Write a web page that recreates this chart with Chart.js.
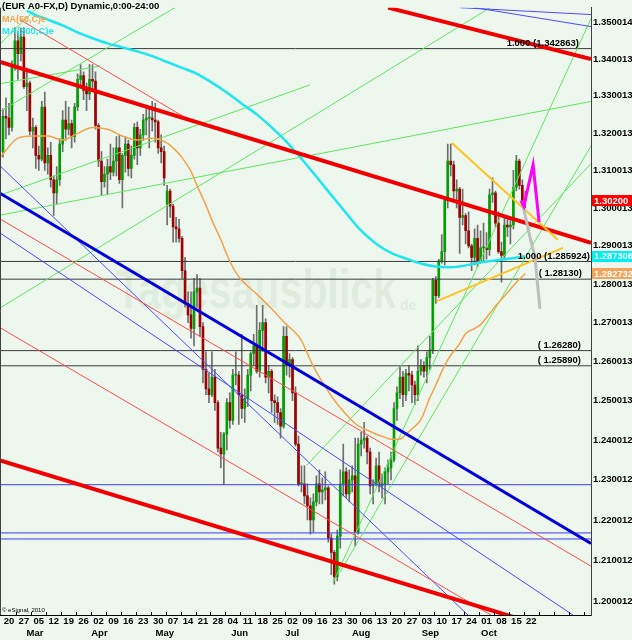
<!DOCTYPE html>
<html><head><meta charset="utf-8">
<script src="https://cdn.jsdelivr.net/npm/chart.js@4.4.1/dist/chart.umd.min.js"></script>
<style>html,body{margin:0;padding:0;background:#eef7ee;}canvas{display:block;}</style>
</head><body>
<canvas id="c" width="632" height="640"></canvas>
<script>
// ---------- DATA (EUR A0-FX daily, trading day index 0 = Mon 20 Feb) ----------
const OPEN  = [1.3150,1.3245,1.3240,1.3215,1.3380,1.3450,1.3415,1.3460,1.3325,1.3335,
1.3205,1.3215,1.3140,1.3130,1.3270,1.3120,1.3140,1.3075,1.3040,1.3075,
1.3170,1.3235,1.3210,1.3225,1.3190,1.3270,1.3345,1.3355,1.3315,1.3305,
1.3345,1.3340,1.3220,1.3125,1.3070,1.3090,1.3110,1.3095,1.3125,1.3160,
1.3075,1.3140,1.3170,1.3105,1.3140,1.3215,1.3160,1.3195,1.3235,1.3240,
1.3240,1.3235,1.3230,1.3160,1.3150,1.3010,1.3045,1.3005,1.2950,1.2945,
1.2920,1.2835,1.2750,1.2720,1.2685,1.2780,1.2790,1.2690,1.2580,1.2530,
1.2515,1.2560,1.2495,1.2380,1.2365,1.2415,1.2495,1.2450,1.2565,1.2565,
1.2515,1.2480,1.2505,1.2565,1.2620,1.2640,1.2575,1.2680,1.2700,1.2560,
1.2575,1.2500,1.2495,1.2470,1.2435,1.2665,1.2590,1.2605,1.2520,1.2390,
1.2290,1.2290,1.2260,1.2235,1.2200,1.2245,1.2290,1.2270,1.2275,1.2280,
1.2155,1.2120,1.2060,1.2160,1.2290,1.2320,1.2265,1.2300,1.2310,1.2170,
1.2390,1.2400,1.2405,1.2370,1.2285,1.2290,1.2335,1.2285,1.2290,1.2320,
1.2330,1.2350,1.2480,1.2520,1.2560,1.2515,1.2570,1.2565,1.2540,1.2515,
1.2575,1.2590,1.2575,1.2610,1.2630,1.2810,1.2770,1.2860,1.2885,1.3020,
1.3125,1.3115,1.3045,1.3050,1.2975,1.2980,1.2940,1.2900,1.2870,1.2920,
1.2860,1.2895,1.2895,1.2890,1.3035,1.3040,1.2960,1.2885,1.2875,1.2955,
1.2950,1.2955,1.3055,1.3125,1.3060,1.3020];
const HIGH  = [1.3265,1.3295,1.3280,1.3395,1.3486,1.3475,1.3485,1.3486,1.3375,1.3340,
1.3240,1.3220,1.3165,1.3285,1.3310,1.3160,1.3175,1.3085,1.3110,1.3185,
1.3260,1.3285,1.3270,1.3235,1.3280,1.3360,1.3385,1.3365,1.3335,1.3385,
1.3385,1.3365,1.3225,1.3150,1.3110,1.3130,1.3170,1.3160,1.3190,1.3195,
1.3145,1.3190,1.3180,1.3165,1.3225,1.3230,1.3210,1.3250,1.3265,1.3265,
1.3285,1.3280,1.3235,1.3195,1.3165,1.3060,1.3050,1.3010,1.2975,1.2970,
1.2925,1.2870,1.2780,1.2780,1.2815,1.2825,1.2815,1.2700,1.2625,1.2570,
1.2625,1.2580,1.2500,1.2420,1.2420,1.2505,1.2520,1.2580,1.2625,1.2575,
1.2670,1.2530,1.2580,1.2625,1.2670,1.2745,1.2700,1.2745,1.2710,1.2590,
1.2580,1.2515,1.2510,1.2480,1.2690,1.2690,1.2620,1.2610,1.2535,1.2410,
1.2335,1.2335,1.2290,1.2255,1.2265,1.2310,1.2325,1.2305,1.2320,1.2285,
1.2165,1.2125,1.2175,1.2325,1.2390,1.2330,1.2325,1.2335,1.2405,1.2405,
1.2420,1.2445,1.2410,1.2380,1.2300,1.2355,1.2370,1.2315,1.2330,1.2350,
1.2370,1.2495,1.2535,1.2590,1.2575,1.2580,1.2590,1.2575,1.2550,1.2640,
1.2605,1.2600,1.2625,1.2665,1.2815,1.2820,1.2865,1.2930,1.3020,1.3170,
1.3170,1.3125,1.3075,1.3055,1.3050,1.2985,1.2990,1.2905,1.2945,1.2955,
1.2940,1.2960,1.2935,1.3050,1.3080,1.3045,1.2990,1.2910,1.2975,1.2975,
1.2975,1.3100,1.3140,1.3130,1.3075,1.3045];
const LOW   = [1.3135,1.3185,1.3195,1.3205,1.3370,1.3345,1.3395,1.3320,1.3260,1.3195,
1.3160,1.3105,1.3100,1.3125,1.3100,1.3090,1.3055,1.2980,1.3010,1.3060,
1.3150,1.3180,1.3195,1.3160,1.3175,1.3260,1.3320,1.3290,1.3260,1.3290,
1.3315,1.3210,1.3110,1.3035,1.3055,1.3035,1.3075,1.3085,1.3085,1.3065,
1.3000,1.3095,1.3085,1.3080,1.3130,1.3115,1.3140,1.3180,1.3195,1.3160,
1.3205,1.3175,1.3145,1.3120,1.3060,1.2955,1.2975,1.2910,1.2910,1.2910,
1.2815,1.2740,1.2700,1.2660,1.2640,1.2740,1.2665,1.2545,1.2515,1.2495,
1.2510,1.2475,1.2370,1.2330,1.2288,1.2375,1.2430,1.2440,1.2540,1.2440,
1.2455,1.2445,1.2485,1.2525,1.2590,1.2570,1.2560,1.2625,1.2545,1.2520,
1.2470,1.2445,1.2440,1.2405,1.2430,1.2565,1.2560,1.2500,1.2385,1.2285,
1.2270,1.2240,1.2200,1.2165,1.2170,1.2235,1.2240,1.2240,1.2250,1.2145,
1.2065,1.2042,1.2050,1.2130,1.2260,1.2255,1.2245,1.2270,1.2135,1.2165,
1.2360,1.2380,1.2340,1.2265,1.2240,1.2285,1.2270,1.2255,1.2240,1.2290,
1.2300,1.2345,1.2450,1.2505,1.2485,1.2500,1.2525,1.2495,1.2490,1.2500,
1.2565,1.2560,1.2545,1.2580,1.2620,1.2750,1.2765,1.2855,1.2850,1.3000,
1.3085,1.3025,1.3000,1.2880,1.2955,1.2905,1.2895,1.2835,1.2850,1.2845,
1.2855,1.2860,1.2865,1.2875,1.3015,1.2950,1.2880,1.2805,1.2865,1.2925,
1.2905,1.2945,1.3045,1.3050,1.3010,1.3000];
const CLOSE = [1.3245,1.3240,1.3215,1.3380,1.3450,1.3415,1.3460,1.3325,1.3335,1.3205,
1.3215,1.3140,1.3130,1.3270,1.3120,1.3140,1.3075,1.3040,1.3075,1.3170,
1.3235,1.3210,1.3225,1.3190,1.3270,1.3345,1.3355,1.3315,1.3305,1.3345,
1.3340,1.3220,1.3125,1.3070,1.3090,1.3110,1.3095,1.3125,1.3160,1.3075,
1.3140,1.3170,1.3105,1.3140,1.3215,1.3160,1.3195,1.3235,1.3240,1.3240,
1.3235,1.3230,1.3160,1.3150,1.3080,1.3045,1.3005,1.2950,1.2945,1.2920,
1.2835,1.2750,1.2720,1.2685,1.2780,1.2790,1.2690,1.2580,1.2530,1.2515,
1.2560,1.2495,1.2380,1.2365,1.2415,1.2495,1.2450,1.2565,1.2565,1.2515,
1.2480,1.2505,1.2565,1.2620,1.2640,1.2575,1.2680,1.2700,1.2560,1.2575,
1.2500,1.2495,1.2470,1.2435,1.2665,1.2590,1.2605,1.2520,1.2390,1.2290,
1.2290,1.2260,1.2235,1.2200,1.2245,1.2290,1.2270,1.2275,1.2280,1.2155,
1.2120,1.2060,1.2160,1.2290,1.2320,1.2265,1.2300,1.2310,1.2170,1.2390,
1.2400,1.2405,1.2370,1.2285,1.2290,1.2335,1.2285,1.2290,1.2320,1.2330,
1.2350,1.2480,1.2520,1.2560,1.2515,1.2570,1.2565,1.2540,1.2515,1.2575,
1.2590,1.2575,1.2610,1.2630,1.2810,1.2770,1.2860,1.2885,1.3020,1.3125,
1.3115,1.3045,1.3050,1.2975,1.2980,1.2940,1.2900,1.2870,1.2920,1.2860,
1.2895,1.2895,1.2890,1.3035,1.3040,1.2960,1.2885,1.2875,1.2955,1.2950,
1.2955,1.3055,1.3125,1.3060,1.3020,1.3020];

// moving averages (day index, value)
const MA50_DAYS = [-1,5,10,15,20,25,30,35,40,45,50,55,58,60,63,65,68,70,73,75,78,80,85,90,95,98,100,103,105,108,110,113,115,118,120,123,125,128,130,133,135,138,140,143,145,148,150,153,155,158,160,163,165,168,170,173,175];
const MA50_VALS = [1.3134,1.3186,1.3192,1.3192,1.3181,1.3199,1.3215,1.3210,1.3192,1.3181,1.3186,1.3173,1.3152,1.3134,1.3097,1.3060,1.3007,1.2968,1.2916,1.2877,1.2831,1.2810,1.2774,1.2736,1.2695,1.2674,1.2654,1.2603,1.2573,1.2535,1.2512,1.2482,1.2465,1.2442,1.2432,1.2422,1.2415,1.2407,1.2402,1.2402,1.2415,1.2435,1.2452,1.2507,1.2540,1.2590,1.2616,1.2646,1.2672,1.2685,1.2695,1.2723,1.2743,1.2769,1.2787,1.2813,1.282732];
const MA200_DAYS = [8,10,15,20,25,30,35,40,45,50,55,60,65,70,75,80,85,90,95,100,105,110,115,120,125,130,135,140,145,150,155,160,165,170,175];
const MA200_VALS = [1.3533,1.3524,1.3508,1.3492,1.3473,1.3457,1.3443,1.3432,1.3421,1.3408,1.3392,1.3376,1.3360,1.3336,1.3309,1.3279,1.3250,1.3215,1.3176,1.3131,1.3083,1.3034,1.2986,1.2940,1.2906,1.2882,1.2867,1.2854,1.2846,1.2844,1.2849,1.2857,1.2862,1.2867,1.287306];

// axis labels
const DAY_TICKS  = [2,7,12,17,22,27,32,37,42,47,52,57,62,67,72,77,82,87,92,97,102,107,112,117,122,127,132,137,142,147,152,157,162,167,172,177];
const DAY_LABELS = ['20','27','05','12','19','26','02','09','16','23','30','07','14','21','28','04','11','18','25','02','09','16','23','30','06','13','20','27','03','10','17','24','01','08','15','22'];
const MONTH_TICKS  = [10.7,32.3,54.2,79.3,96.9,120,143.2,162.8];
const MONTH_LABELS = ['Mar','Apr','May','Jun','Jul','Aug','Sep','Oct'];
const Y_TICKS = [1.200012,1.210012,1.220012,1.230012,1.240012,1.250013,1.260013,1.270013,1.280013,1.290013,1.300013,1.310013,1.320013,1.330013,1.340013,1.350014];
const Y_LABELS = ['1.200012','1.210012','1.220012','1.230012','1.240012','1.250013','1.260013','1.270013','1.280013','1.290013','1.300013','1.310013','1.320013','1.330013','1.340013','1.350014'];

// horizontal levels
const BLACK_LEVELS = [1.342863,1.285924,1.28130,1.26280,1.25890];
const BLACK_LEVEL_TEXT = ['1.000 (1.342863)','1.000 (1.285924)','( 1.28130)','( 1.26280)','( 1.25890)'];
const BLUE_LEVELS = [1.2288,1.2168,1.2153];

// trend lines: [day index, price]
const RED_THICK_UPPER = [[-1,1.3392],[197,1.2908]];
const RED_THICK_LOWER = [[-1,1.2349],[197,1.1904]];
const RED_THICK_TOP   = [[129,1.3541],[197,1.3400]];
const RED_THIN_1 = [[5.7,1.3508],[60.3,1.3245]];
const RED_THIN_2 = [[-1,1.2971],[197,1.2086]];
const RED_THIN_3 = [[-1,1.2687],[163.8,1.1965]];
const BLUE_THICK = [[-1,1.3039],[197,1.2142]];
const BLUE_THIN_1 = [[-1,1.3112],[158.1,1.1950]];
const BLUE_THIN_2 = [[-1,1.2934],[197,1.1937]];
const BLUE_THIN_3 = [[153.1,1.3541],[197,1.3522]];
const BLUE_THIN_4 = [[158.1,1.3541],[197,1.3489]];
const GREEN_1 = [[-1,1.2738],[163.2,1.3541]];
const GREEN_2 = [[-1,1.2981],[197,1.3285]];
const GREEN_3 = [[-1,1.3034],[102.9,1.3330]];
const GREEN_4 = [[-1,1.3258],[57.6,1.3541]];
const GREEN_5 = [[-1,1.3333],[32.5,1.3381]];
const GREEN_6 = [[-1,1.3441],[11.4,1.3541]];
const GREEN_7 = [[110.6,1.2046],[197,1.3511]];
const GREEN_8 = [[112.9,1.2071],[197,1.3165]];
const GREEN_9 = [[101.8,1.2337],[197,1.3118]];
const YELLOW_1 = [[150.4,1.3173],[185.9,1.2916]];
const YELLOW_2 = [[145.4,1.2756],[187.6,1.2895]];
const MAGENTA_PATH = [[173.5,1.3020],[174.5,1.3005],[177.6,1.3115],[179.6,1.2963]];
const GRAY_PATH = [[174.2,1.3007],[176.6,1.2921],[178.2,1.2872],[179.9,1.2736]];

// value boxes on the price axis
const LAST_PRICE = 1.30200, LAST_MA200 = 1.287306, LAST_MA50 = 1.282732;

// ---------- STYLE ----------
const BG = '#eef7ee';
function hasFont(name){
  const c=document.createElement('canvas').getContext('2d');
  const s='1.350014 Dynamic MAR';
  c.font='bold 11px monospace'; const a=c.measureText(s).width;
  c.font='bold 11px "'+name+'", monospace'; const b=c.measureText(s).width;
  return Math.abs(a-b)>0.5;
}
const NARROW = hasFont('Liberation Sans Narrow');
const FAM = NARROW ? '"Liberation Sans Narrow", "Liberation Sans", Arial, sans-serif' : '"Liberation Sans", Arial, sans-serif';
const FS = NARROW ? 11 : 9.5;

function line(pts, color, width, order, extra){
  return Object.assign({type:'line', data: pts.map(p=>({x:p[0], y:p[1]})), borderColor: color,
    borderWidth: width, pointRadius: 0, pointHoverRadius: 0, fill: false, tension: 0, order: order}, extra||{});
}
const DAYS = OPEN.map((_,i)=>i);
const datasets = [];
datasets.push({type:'bar', data: DAYS.map(i=>({x:i, y:[LOW[i],HIGH[i]]})), backgroundColor:'#6e6e6e',
  barThickness:1, grouped:false, order:40});
datasets.push({type:'bar', data: DAYS.map(i=>({x:i, y:[OPEN[i],CLOSE[i]]})),
  backgroundColor: DAYS.map(i=> CLOSE[i]>=OPEN[i] ? '#00a000' : '#a00000'),
  barThickness:2, grouped:false, minBarLength:1, order:39});
BLACK_LEVELS.forEach(v=>datasets.push(line([[-1,v],[197,v]], '#3a3a3a', 1, 20)));
BLUE_LEVELS.forEach(v=>datasets.push(line([[-1,v],[197,v]], '#3a3aff', 1, 20)));
[RED_THIN_1,RED_THIN_2,RED_THIN_3].forEach(l=>datasets.push(line(l,'#ff4a4a',1,15)));
[BLUE_THIN_1,BLUE_THIN_2,BLUE_THIN_3,BLUE_THIN_4].forEach(l=>datasets.push(line(l,'#4a4aff',1,15)));
[GREEN_1,GREEN_2,GREEN_3,GREEN_4,GREEN_5,GREEN_6,GREEN_7,GREEN_8,GREEN_9].forEach(l=>datasets.push(line(l,'#5ee65e',1,15)));
datasets.push(line(MA200_DAYS.map((d,i)=>[d,MA200_VALS[i]]), '#1ee6ee', 2.5, 10, {cubicInterpolationMode:'monotone'}));
datasets.push(line(MA50_DAYS.map((d,i)=>[d,MA50_VALS[i]]), '#f2a24a', 1.5, 10, {cubicInterpolationMode:'monotone'}));
datasets.push(line(BLUE_THICK, '#0000dd', 3, 8));
[RED_THICK_UPPER,RED_THICK_LOWER,RED_THICK_TOP].forEach(l=>datasets.push(line(l,'#f00000',4,7)));
[YELLOW_1,YELLOW_2].forEach(l=>datasets.push(line(l,'#ffc21e',2,6)));
datasets.push(line(GRAY_PATH, '#bdbdbd', 3, 5));
datasets.push(line(MAGENTA_PATH, '#ff00ff', 3, 4));

const deco = {
  id:'deco',
  beforeDraw(chart){
    const c=chart.ctx; c.save(); c.fillStyle=BG; c.fillRect(0,0,chart.width,chart.height); c.restore();
  },
  beforeDatasetsDraw(chart){
    const c=chart.ctx; c.save();
    c.fillStyle='rgba(150,185,150,0.16)';
    c.font='bold 56px "Liberation Sans", Arial, sans-serif';
    c.textBaseline='alphabetic'; c.textAlign='left';
    c.fillText('Tagesausblick', 116, 308, 280);
    c.font='bold 14px "Liberation Sans", Arial, sans-serif';
    c.fillText('de', 400, 310);
    c.restore();
  },
  afterDatasetsDraw(chart){
    const c=chart.ctx, y=chart.scales.y, x=chart.scales.x, a=chart.chartArea;
    c.save();
    c.fillStyle='#000'; c.textBaseline='middle'; c.textAlign='right';
    c.font='bold '+FS+'px '+FAM;
    const ends=[579,590,582,581,581];
    BLACK_LEVELS.forEach((v,i)=>{ c.fillText(BLACK_LEVEL_TEXT[i], ends[i], y.getPixelForValue(v)-5.5); });
    // left border
    c.strokeStyle='#404040'; c.lineWidth=1;
    c.beginPath(); c.moveTo(0.5,a.top); c.lineTo(0.5,a.bottom); c.stroke();
    // week separators on the time axis
    c.strokeStyle='#000';
    for(let k=0;k<39;k++){
      const px=Math.round(x.getPixelForValue(5*k+4.5))+0.5;
      if(px>a.right) break;
      c.beginPath(); c.moveTo(px,a.bottom-3); c.lineTo(px,a.bottom); c.stroke();
    }
    // header texts
    c.textAlign='left';
    c.fillStyle='#000';
    c.fillText('(EUR A0-FX,D) Dynamic,0:00-24:00', 2, 6, 166);
    c.fillStyle='#f2a24a'; c.fillText('MA(50,C)e', 2, 19, 44);
    c.fillStyle='#1ee6ee'; c.fillText('MA(200,C)e', 2, 31, 52);
    c.fillStyle='#000'; c.font='6px "Liberation Sans", Arial, sans-serif';
    c.fillText('\u00a9 eSignal, 2010', 2, 610);
    c.restore();
  },
  afterDraw(chart){
    const c=chart.ctx, y=chart.scales.y, a=chart.chartArea;
    c.save();
    c.font='bold '+FS+'px '+FAM; c.textBaseline='middle'; c.textAlign='left';
    [[LAST_PRICE,'#ff0000','1.30200'],[LAST_MA200,'#00f0f0','1.287306'],[LAST_MA50,'#f4a45a','1.282732']].forEach(b=>{
      const py=y.getPixelForValue(b[0]);
      c.fillStyle=b[1]; c.fillRect(a.right+1, Math.round(py-5.5), chart.width-a.right-1, 11);
      c.fillStyle='#fff'; c.fillText(b[2], a.right+3, py+0.5, 39);
    });
    c.restore();
  }
};

new Chart(document.getElementById('c'), {
  type:'bar',
  data:{datasets},
  options:{
    responsive:false, animation:false, events:[],
    layout:{padding:0},
    plugins:{legend:{display:false}, tooltip:{enabled:false}},
    scales:{
      x:{type:'linear', min:-1, max:197, offset:false, bounds:'data', position:'bottom',
        grid:{display:false, drawTicks:false}, border:{display:true, color:'#000', width:1},
        afterBuildTicks:s=>{s.ticks=DAY_TICKS.map(v=>({value:v}));},
        afterFit:s=>{s.height=13;},
        ticks:{autoSkip:false, maxRotation:0, minRotation:0, padding:1, color:'#000',
          font:{family:FAM, size:FS, weight:'bold'}, callback:(v,i)=>DAY_LABELS[i]}},
      x2:{type:'linear', min:-1, max:197, offset:false, bounds:'data', position:'bottom',
        grid:{display:false, drawTicks:false}, border:{display:false},
        afterBuildTicks:s=>{s.ticks=MONTH_TICKS.map(v=>({value:v}));},
        afterFit:s=>{s.height=12;},
        ticks:{autoSkip:false, maxRotation:0, minRotation:0, padding:0, color:'#000',
          font:{family:FAM, size:FS, weight:'bold'}, callback:(v,i)=>MONTH_LABELS[i]}},
      y:{type:'logarithmic', position:'right', min:1.19664, max:1.35409, bounds:'data',
        grid:{display:false, drawTicks:false}, border:{display:true, color:'#404040', width:1},
        afterBuildTicks:s=>{s.ticks=Y_TICKS.map(v=>({value:v}));},
        afterFit:s=>{s.width=41;},
        ticks:{autoSkip:false, padding:2, color:'#000',
          font:{family:FAM, size:FS, weight:'bold'}, callback:(v,i)=>Y_LABELS[i]}}
    }
  },
  plugins:[deco]
});
</script>
</body></html>
